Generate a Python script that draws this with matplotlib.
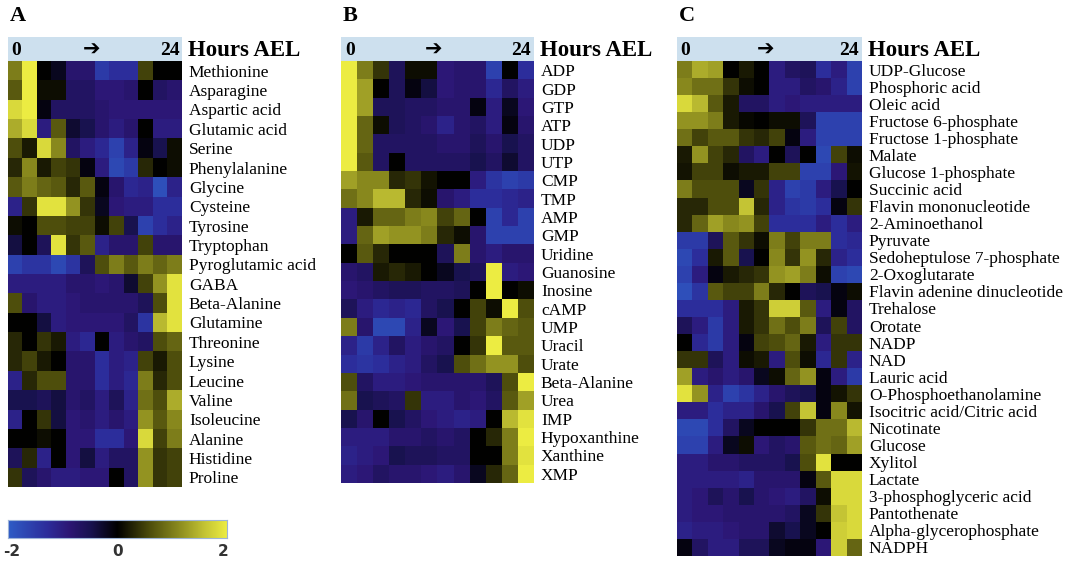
import numpy as np
import matplotlib
matplotlib.use('Agg')
import matplotlib.pyplot as plt
from matplotlib.colors import LinearSegmentedColormap

# ---- data: z-scores, 12 time points (0 -> 24 h AEL) ----
amino_names = ['Methionine', 'Asparagine', 'Aspartic acid', 'Glutamic acid', 'Serine',
               'Phenylalanine', 'Glycine', 'Cysteine', 'Tyrosine', 'Tryptophan',
               'Pyroglutamic acid', 'GABA', 'Beta-Alanine', 'Glutamine', 'Threonine',
               'Lysine', 'Leucine', 'Valine', 'Isoleucine', 'Alanine', 'Histidine', 'Proline']
amino_vals = [
    [1.0, 2.0, 0.0, -0.2, -0.8, -0.8, -1.5, -1.3, -1.3, 0.5, 0.0, 0.0],
    [0.7, 2.0, 0.1, 0.1, -0.7, -0.7, -0.9, -0.9, -0.8, 0.0, -0.7, -0.8],
    [1.8, 2.0, -0.1, -0.7, -0.7, -0.7, -0.8, -0.9, -0.9, -0.9, -0.9, -0.9],
    [1.4, 1.8, -1.0, 0.7, -0.3, -0.5, -0.8, -1.0, -0.8, 0.0, -1.0, -1.0],
    [0.6, 0.2, 1.8, 1.1, -0.7, -1.0, -1.2, -1.6, -1.1, -0.1, -0.5, 0.1],
    [0.3, 1.1, 0.2, 0.5, 0.4, -0.1, -1.0, -1.7, -1.5, 0.3, 0.0, 0.1],
    [0.7, 1.0, 0.8, 0.7, 0.3, 0.7, -0.1, -0.8, -1.2, -1.1, -1.8, -1.1],
    [-1.1, 0.4, 1.9, 1.9, 1.2, 0.4, -0.2, -0.9, -1.0, -1.0, -1.3, -1.3],
    [0.1, 0.0, 0.6, 0.6, 0.5, 0.5, 0.1, 0.5, -0.5, -1.6, -1.3, -1.1],
    [-0.4, 0.0, -0.6, 1.9, 0.4, 0.7, -1.1, -0.8, -0.8, 0.5, -0.8, -0.8],
    [-1.6, -1.4, -1.4, -1.7, -1.4, -0.6, 0.6, 1.0, 0.7, 1.0, 0.8, 1.0],
    [-1.0, -1.0, -1.0, -1.0, -0.8, -0.8, -0.9, -0.8, -0.3, 0.5, 1.2, 1.9],
    [0.6, -0.8, -1.0, -1.0, -0.9, -0.8, -0.8, -0.8, -0.8, -0.6, 0.6, 1.9],
    [0.0, 0.0, -0.4, -1.0, -0.9, -0.9, -0.9, -0.9, -0.7, -1.4, 1.5, 1.9],
    [0.3, 0.0, 0.4, 0.2, -1.0, -1.2, 0.0, -1.0, -0.8, -0.7, 0.6, 0.8],
    [0.3, 0.5, 0.2, 0.0, -0.8, -0.8, -1.3, -1.0, -1.1, 0.5, 0.2, 0.6],
    [-1.1, 0.3, 0.6, 0.6, -0.8, -0.8, -1.3, -1.0, -1.2, 1.0, 0.3, 0.6],
    [-0.5, -0.5, -0.6, -0.4, -0.8, -0.7, -1.0, -0.6, -1.1, 0.9, 0.6, 1.4],
    [-1.1, 0.0, 0.4, -0.4, -0.9, -0.8, -1.0, -0.8, -1.0, 1.2, 0.7, 1.1],
    [0.0, 0.0, 0.1, 0.0, -0.9, -0.9, -1.3, -1.3, -0.9, 1.8, 0.5, 1.0],
    [-0.6, 0.3, -1.1, 0.0, -0.9, -0.4, -1.0, -0.7, -0.7, 1.2, 0.4, 0.5],
    [0.4, -0.6, -0.8, -1.0, -1.0, -0.9, -0.9, 0.0, -0.7, 1.2, 0.4, 0.5],
]

nucleo_names = ['ADP', 'GDP', 'GTP', 'ATP', 'UDP', 'UTP', 'CMP', 'TMP', 'AMP', 'GMP',
                'Uridine', 'Guanosine', 'Inosine', 'cAMP', 'UMP', 'Uracil', 'Urate',
                'Beta-Alanine', 'Urea', 'IMP', 'Hypoxanthine', 'Xanthine', 'XMP']
nucleo_vals = [
    [2.0, 1.0, 0.4, -0.6, 0.1, 0.1, -0.9, -0.8, -0.8, -1.6, 0.0, -1.3],
    [2.0, 1.3, 0.0, -0.6, -0.1, -0.4, -0.9, -0.8, -0.8, -1.2, -0.7, -1.0],
    [2.0, 1.3, -0.6, -0.6, -0.7, -0.7, -0.8, -0.8, -0.1, -1.0, -0.2, -0.9],
    [2.0, 0.8, 0.1, -0.6, -0.7, -0.8, -1.1, -0.8, -0.7, -1.0, -0.1, -0.8],
    [2.0, 0.8, -0.7, -0.7, -0.7, -0.7, -0.8, -0.8, -0.6, -0.8, -0.5, -0.7],
    [2.0, 0.7, -0.7, 0.0, -0.7, -0.7, -0.7, -0.7, -0.5, -0.7, -0.3, -0.7],
    [1.3, 1.1, 1.1, 0.3, 0.4, 0.15, 0.0, 0.0, -1.0, -1.4, -1.6, -1.5],
    [0.9, 1.1, 1.5, 1.5, 0.3, 0.1, -0.8, -1.0, -1.3, -1.3, -1.2, -1.1],
    [-1.0, 0.2, 0.8, 0.8, 1.0, 1.1, 0.5, 0.8, 0.0, -1.6, -1.2, -1.6],
    [-1.0, 0.8, 1.3, 1.2, 1.2, 1.0, 0.3, 0.1, -0.8, -1.6, -1.6, -1.6],
    [0.0, 0.7, 0.3, 0.0, 0.0, 0.0, -0.6, 1.0, -0.8, -1.0, -0.8, -0.8],
    [-0.8, -0.7, 0.2, 0.3, 0.2, 0.0, -0.2, -0.5, -0.6, 2.0, -1.0, -0.9],
    [-0.9, -0.8, -0.7, -0.6, -0.6, -0.7, -0.7, -0.6, 0.0, 2.0, 0.0, 0.1],
    [-0.6, -1.0, -1.2, -1.1, -1.2, -0.7, -0.5, 0.0, 0.5, 0.1, 2.0, 0.6],
    [1.0, -0.8, -1.7, -1.7, -1.1, -0.2, -0.9, -0.5, 0.5, 1.0, 0.8, 0.7],
    [-1.1, -1.5, -1.1, -0.7, -1.0, -0.8, -0.7, 0.0, 0.4, 2.0, 0.7, 0.7],
    [-1.3, -1.4, -1.3, -1.1, -1.0, -0.7, -0.5, 0.6, 0.9, 1.2, 1.2, 0.6],
    [0.6, -0.7, -1.0, -1.0, -0.9, -0.8, -0.8, -0.8, -0.8, -0.6, 0.6, 2.0],
    [0.9, -0.5, -0.6, -0.7, 0.4, -1.0, -1.0, -0.8, -0.9, -0.7, 0.7, 1.3],
    [-0.5, -0.8, 0.0, -0.5, -0.7, -0.9, -1.0, -1.1, -1.0, 0.0, 1.5, 1.9],
    [-1.0, -1.0, -1.0, -0.8, -0.8, -0.7, -0.8, -0.7, 0.0, 0.3, 1.0, 2.0],
    [-1.1, -1.0, -0.9, -0.5, -0.6, -0.6, -0.7, -0.7, 0.0, 0.0, 1.0, 1.9],
    [-1.0, -0.9, -0.7, -0.8, -0.8, -0.9, -1.0, -0.8, -0.2, 0.3, 0.8, 2.0],
]

other_names = ['UDP-Glucose', 'Phosphoric acid', 'Oleic acid', 'Fructose 6-phosphate',
               'Fructose 1-phosphate', 'Malate', 'Glucose 1-phosphate', 'Succinic acid',
               'Flavin mononucleotide', '2-Aminoethanol', 'Pyruvate',
               'Sedoheptulose 7-phosphate', '2-Oxoglutarate', 'Flavin adenine dinucleotide',
               'Trehalose', 'Orotate', 'NADP', 'NAD', 'Lauric acid', 'O-Phosphoethanolamine',
               'Isocitric acid/Citric acid', 'Nicotinate', 'Glucose', 'Xylitol', 'Lactate',
               '3-phosphoglyceric acid', 'Pantothenate', 'Alpha-glycerophosphate', 'NADPH']
other_vals = [
    [1.0, 1.4, 1.3, 0.0, 0.2, 0.0, -1.0, -0.7, -0.6, -1.3, -1.0, -1.6],
    [1.1, 0.9, 0.9, 0.4, 0.1, 0.0, -1.0, -1.0, -0.7, -0.8, -1.1, -1.6],
    [1.8, 1.5, 0.7, 0.2, -0.7, -0.7, -1.0, -0.9, -1.0, -1.0, -1.0, -1.0],
    [1.2, 1.2, 1.0, 0.2, 0.05, 0.0, 0.1, 0.1, -0.6, -1.6, -1.6, -1.6],
    [0.9, 0.5, 0.7, 0.7, 0.4, 0.3, 0.5, -0.1, -1.0, -1.6, -1.6, -1.6],
    [0.2, 1.2, 0.5, 0.3, -0.7, -1.0, 0.0, -0.6, 0.0, -1.7, 0.5, 0.1],
    [0.15, 0.5, 0.5, 0.1, 0.2, 0.2, 0.5, 0.5, -1.6, -1.6, -0.9, 0.15],
    [1.0, 0.6, 0.6, 0.6, -0.2, 0.4, -1.1, -1.6, -1.5, -1.0, -0.5, 0.0],
    [0.3, 0.3, 0.6, 0.6, 1.6, 0.3, -1.1, -1.4, -1.5, -1.3, -0.1, 0.4],
    [0.3, 0.8, 1.3, 1.1, 1.2, 0.5, -1.3, -1.3, -1.3, -1.0, -1.3, -1.0],
    [-1.5, -1.5, -0.6, 0.7, 0.4, 0.1, 1.0, 0.5, 1.0, 1.0, -1.3, -1.2],
    [-1.7, -1.3, 0.2, 0.7, -0.5, 0.0, 1.1, 0.4, 1.2, 0.3, -1.1, -1.3],
    [-1.6, -1.0, -0.1, 0.2, 0.3, 0.4, 1.2, 1.3, 1.0, 0.1, -1.6, -1.7],
    [-1.8, -1.4, 0.7, 0.5, 0.5, 1.0, 0.3, 0.0, -0.6, -0.5, -0.1, 0.1],
    [-1.3, -1.3, -1.3, -1.0, 0.2, 0.4, 1.7, 1.7, 0.7, -1.0, -0.1, -0.7],
    [-0.6, -1.0, -1.5, -1.0, 0.2, 0.4, 0.9, 0.6, 1.0, -0.6, 0.5, -0.7],
    [0.0, -1.2, -1.5, -1.0, -0.1, 0.5, 0.6, 0.8, 0.2, -1.0, 0.4, 0.4],
    [0.4, 0.4, -0.6, -1.0, 0.1, 0.2, -1.0, 0.6, 0.1, -1.2, 0.4, -1.1],
    [1.3, -1.0, -0.8, -1.0, -0.8, -0.2, 0.1, 0.8, 1.2, -0.1, -1.0, -1.5],
    [1.9, 1.2, -1.1, -1.6, -1.4, -1.1, -0.8, -0.6, -0.5, -0.1, 0.15, 0.4],
    [-1.0, -1.0, -1.3, -1.1, -1.1, -0.8, -0.5, 0.5, 1.6, -0.1, 1.1, 0.15],
    [-1.7, -1.7, -1.3, -0.7, -0.2, 0.0, 0.0, 0.0, 0.4, 0.9, 0.9, 1.5],
    [-1.6, -1.6, -1.0, -0.2, 0.1, -0.9, -0.7, -0.8, 0.7, 0.9, 0.8, 1.3],
    [-1.0, -1.0, -0.8, -0.8, -0.7, -0.7, -0.7, -0.5, 0.6, 1.9, 0.0, 0.0],
    [-1.0, -1.0, -1.0, -1.0, -1.1, -0.8, -0.8, -0.8, -0.1, 0.7, 1.8, 1.8],
    [-1.0, -0.9, -0.6, -0.8, -0.5, -0.8, -0.9, -1.0, -0.7, 0.1, 1.8, 1.8],
    [-1.0, -0.9, -0.9, -0.8, -0.8, -0.8, -0.8, -0.7, -0.2, 0.4, 1.6, 1.8],
    [-1.1, -1.0, -1.0, -0.9, -0.8, -0.8, -0.3, -0.5, -0.2, 0.0, 1.7, 1.8],
    [-0.1, -0.7, -1.0, -1.0, -0.6, -0.6, -0.2, -0.1, -0.1, -0.9, 1.7, 0.8],
]

# blue -> purple -> black -> olive -> yellow
cmap = LinearSegmentedColormap.from_list('byk', [
    (0.00, '#2f5cc6'), (0.18, '#2c2c9a'), (0.28, '#2c1674'), (0.38, '#18124e'),
    (0.50, '#000000'), (0.65, '#4e4e0c'), (0.78, '#8a8a1e'), (0.90, '#c4c434'),
    (1.00, '#ecec42')])

W, H = 1069, 563
fig = plt.figure(figsize=(W / 100, H / 100), dpi=100)
SERIF = 'Liberation Serif'


def px_axes(x0, y0, x1, y1):
    return fig.add_axes([x0 / W, 1 - y1 / H, (x1 - x0) / W, (y1 - y0) / H])


def panel(letter, names, vals, x0, x1, y1, fs):
    y_band0, y_band1 = 37, 61
    data = np.array(vals)
    # header band
    hb = px_axes(x0, y_band0, x1, y_band1)
    hb.set_facecolor('#cde0ee')
    hb.set_xticks([]); hb.set_yticks([])
    for sp in hb.spines.values():
        sp.set_visible(False)
    hb.text(0.02, 0.42, '0', fontsize=14, fontweight='bold', family=SERIF,
            ha='left', va='center', transform=hb.transAxes)
    hb.text(0.985, 0.42, '24', fontsize=14, fontweight='bold', family=SERIF,
            ha='right', va='center', transform=hb.transAxes)
    hb.text(0.48, 0.45, '➔', fontsize=15, family='DejaVu Sans',
            ha='center', va='center', transform=hb.transAxes)
    fig.text((x1 + 6) / W, 1 - 50 / H, 'Hours AEL', fontsize=16.5, fontweight='bold',
             family=SERIF, ha='left', va='center')
    fig.text((x0 + 2) / W, 1 - 16 / H, letter, fontsize=16, fontweight='bold',
             family=SERIF, ha='left', va='center')
    # heatmap
    ax = px_axes(x0, y_band1, x1, y1)
    ax.imshow(data, cmap=cmap, vmin=-2, vmax=2, aspect='auto', interpolation='nearest')
    ax.set_xticks([])
    ax.yaxis.tick_right()
    ax.set_yticks(range(len(names)))
    ax.set_yticklabels(names, fontsize=fs, family=SERIF)
    ax.tick_params(axis='y', length=0, pad=5)
    for sp in ax.spines.values():
        sp.set_visible(False)
    return ax


panel('A', amino_names, amino_vals, 8, 182, 487, 12.5)
panel('B', nucleo_names, nucleo_vals, 341, 534, 483, 12.5)
panel('C', other_names, other_vals, 677, 862, 556, 12.5)

# colour scale
cax = px_axes(8, 520, 227, 538)
grad = np.linspace(-2, 2, 256)[None, :]
cax.imshow(grad, cmap=cmap, vmin=-2, vmax=2, aspect='auto',
           extent=[-2, 2, 0, 1])
cax.set_yticks([])
cax.set_xticks([-1.93, 0, 1.93])
cax.set_xticklabels(['-2', '0', '2'], fontsize=11, fontweight='bold', color='#333333')
cax.tick_params(axis='x', length=0, pad=4)
for sp in cax.spines.values():
    sp.set_color('#9db4d8')
    sp.set_linewidth(0.8)

fig.savefig('out.png', dpi=100, facecolor='white')
